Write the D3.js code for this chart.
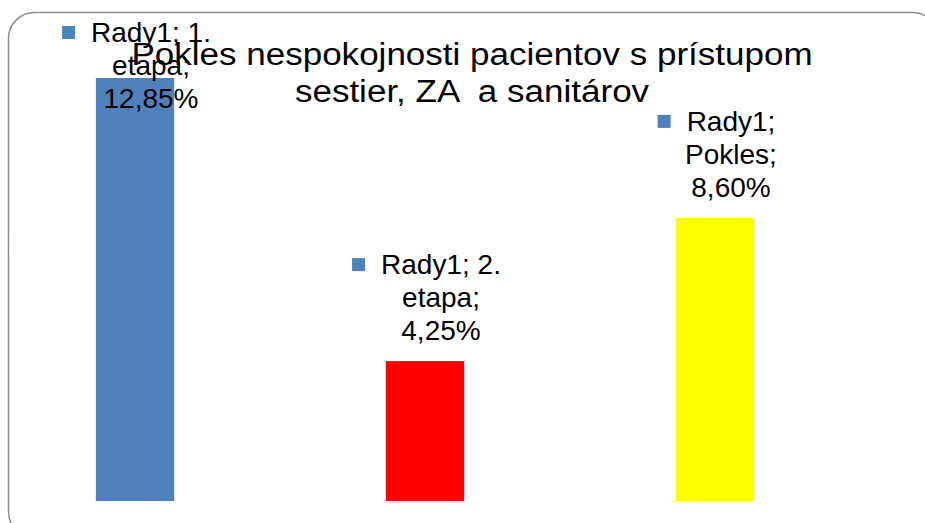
<!DOCTYPE html>
<html>
<head>
<meta charset="utf-8">
<script src="https://cdn.jsdelivr.net/npm/d3@7/dist/d3.min.js"></script>
<style>
  body { margin: 0; background: #fff; }
  text { font-family: "Liberation Sans", Arial, sans-serif; fill: #000; }
</style>
</head>
<body>
<div id="chart"></div>
<script>
  var categories = ["1. etapa", "2. etapa", "Pokles"];
  var labelLines = [["Rady1; 1.", "etapa;", "12,85%"], ["Rady1; 2.", "etapa;", "4,25%"], ["Rady1;", "Pokles;", "8,60%"]];
  var values = [12.85, 4.25, 8.60];
  var barColors = ["#4f81bd", "#ff0000", "#ffff00"];
  var titleLines = ["Pokles nespokojnosti pacientov s prístupom", "sestier, ZA  a sanitárov"];

  var props = { width: 925, height: 523, base: 501, top: 78 };

  var svg = d3.select("#chart").append("svg")
    .attr("width", props.width).attr("height", props.height);

  // rounded frame, partly cut off on right and bottom
  svg.append("rect")
    .attr("x", 8.5).attr("y", 12.5)
    .attr("width", 930).attr("height", 525)
    .attr("rx", 26).attr("ry", 26)
    .style("fill", "none").style("stroke", "#8c8c8c").style("stroke-width", 1.5);

  var x = d3.scaleBand().domain(categories).range([-10, 860])
    .paddingInner(0.73).paddingOuter(0.365);
  var y = d3.scaleLinear().domain([0, 12.85]).range([props.base, props.top]);

  svg.selectAll(".bar")
    .data(values)
    .enter()
    .append("rect")
    .attr("class", "bar")
    .attr("x", function(d, i){ return x(categories[i]); })
    .attr("width", x.bandwidth())
    .attr("y", function(d){ return y(d); })
    .attr("height", function(d){ return props.base - y(d); })
    .style("fill", function(d, i){ return barColors[i]; });

  // data labels with legend key
  var lineH = 33;
  values.forEach(function(v, i){
    var cx = x(categories[i]) + x.bandwidth() / 2 + 16;
    var firstBase = Math.max(y(v) - 21 - 2 * lineH, 42);
    var lab = svg.append("g");
    var t = lab.append("text")
      .attr("text-anchor", "middle")
      .style("font-size", "28px");
    labelLines[i].forEach(function(line, j){
      t.append("tspan").attr("x", cx).attr("y", firstBase + j * lineH).text(line);
    });
    var w = t.select("tspan").node().getComputedTextLength();
    lab.append("rect")
      .attr("x", cx - w / 2 - 29).attr("y", firstBase - 16)
      .attr("width", 13).attr("height", 13)
      .style("fill", "#4f81bd");
  });

  var title = svg.append("g")
    .attr("transform", "translate(472,0) scale(1.13,1)")
    .append("text")
    .attr("text-anchor", "middle")
    .attr("xml:space", "preserve")
    .style("font-size", "31px");
  titleLines.forEach(function(line, j){
    title.append("tspan").attr("x", 0).attr("y", 65 + j * 37).text(line);
  });
</script>
</body>
</html>
